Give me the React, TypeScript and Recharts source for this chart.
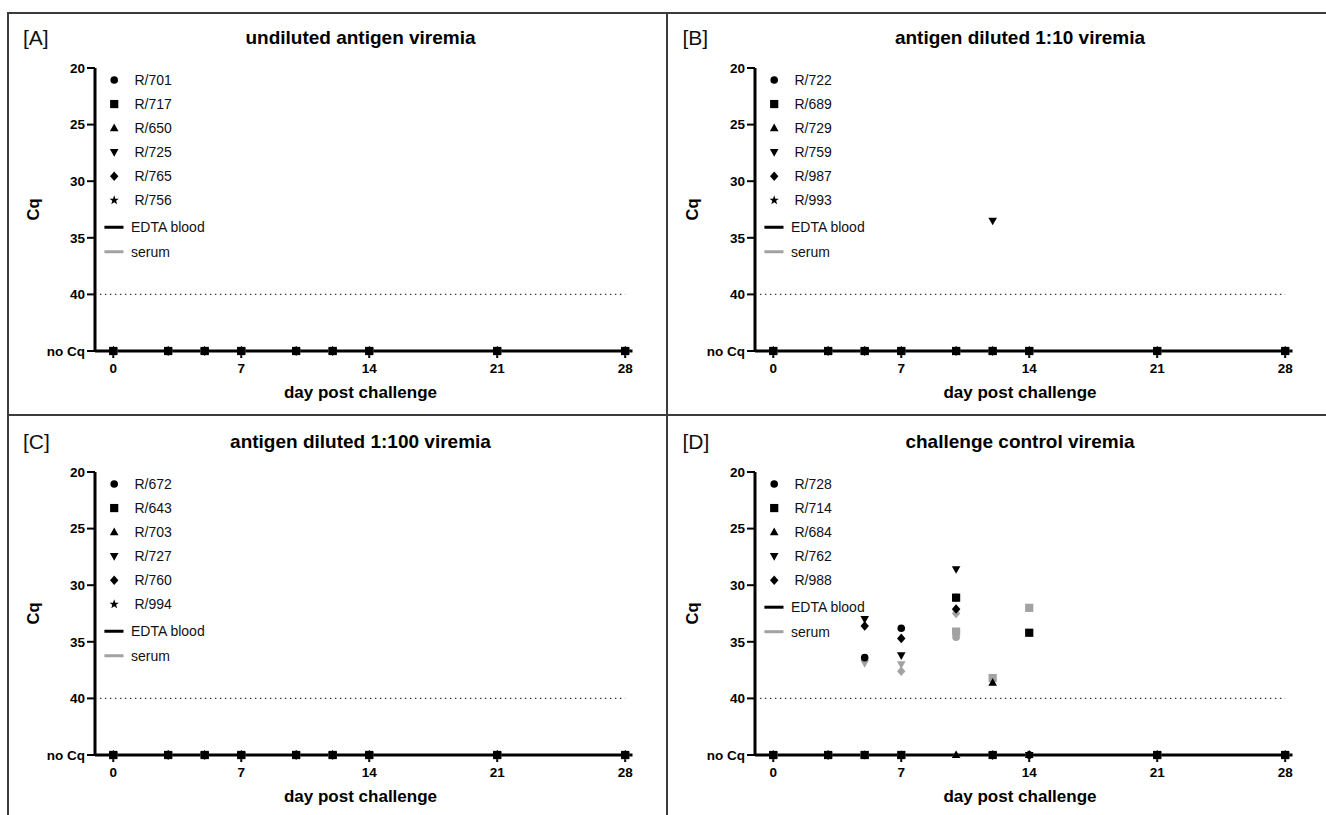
import React from 'react';
import { ScatterChart, Scatter, XAxis, YAxis, ReferenceLine, Legend } from 'recharts';

// ---------- data ----------
const DAYS = [0, 3, 5, 7, 10, 12, 14, 21, 28];
const N = 45; // "no Cq"
const X_TICKS = [0, 7, 14, 21, 28];
const Y_TICKS = [20, 25, 30, 35, 40, 45];
const Y_TICK_LABELS = ['20', '25', '30', '35', '40', 'no Cq'];
const CUTOFF = 40;
const SHAPES = ['circle', 'square', 'triangle', 'down', 'diamond', 'star'];

const A_TITLE = 'undiluted antigen viremia';
const A_ANIMALS = ['R/701', 'R/717', 'R/650', 'R/725', 'R/765', 'R/756'];
const A_EDTA = [
  [N, N, N, N, N, N, N, N, N],
  [N, N, N, N, N, N, N, N, N],
  [N, N, N, N, N, N, N, N, N],
  [N, N, N, N, N, N, N, N, N],
  [N, N, N, N, N, N, N, N, N],
  [N, N, N, N, N, N, N, N, N],
];
const A_SERUM = [
  [N, N, N, N, N, N, N, N, N],
  [N, N, N, N, N, N, N, N, N],
  [N, N, N, N, N, N, N, N, N],
  [N, N, N, N, N, N, N, N, N],
  [N, N, N, N, N, N, N, N, N],
  [N, N, N, N, N, N, N, N, N],
];

const B_TITLE = 'antigen diluted 1:10 viremia';
const B_ANIMALS = ['R/722', 'R/689', 'R/729', 'R/759', 'R/987', 'R/993'];
const B_EDTA = [
  [N, N, N, N, N, N, N, N, N],
  [N, N, N, N, N, N, N, N, N],
  [N, N, N, N, N, N, N, N, N],
  [N, N, N, N, N, 33.5, N, N, N],
  [N, N, N, N, N, N, N, N, N],
  [N, N, N, N, N, N, N, N, N],
];
const B_SERUM = [
  [N, N, N, N, N, N, N, N, N],
  [N, N, N, N, N, N, N, N, N],
  [N, N, N, N, N, N, N, N, N],
  [N, N, N, N, N, N, N, N, N],
  [N, N, N, N, N, N, N, N, N],
  [N, N, N, N, N, N, N, N, N],
];

const C_TITLE = 'antigen diluted 1:100 viremia';
const C_ANIMALS = ['R/672', 'R/643', 'R/703', 'R/727', 'R/760', 'R/994'];
const C_EDTA = [
  [N, N, N, N, N, N, N, N, N],
  [N, N, N, N, N, N, N, N, N],
  [N, N, N, N, N, N, N, N, N],
  [N, N, N, N, N, N, N, N, N],
  [N, N, N, N, N, N, N, N, N],
  [N, N, N, N, N, N, N, N, N],
];
const C_SERUM = [
  [N, N, N, N, N, N, N, N, N],
  [N, N, N, N, N, N, N, N, N],
  [N, N, N, N, N, N, N, N, N],
  [N, N, N, N, N, N, N, N, N],
  [N, N, N, N, N, N, N, N, N],
  [N, N, N, N, N, N, N, N, N],
];

const D_TITLE = 'challenge control viremia';
const D_ANIMALS = ['R/728', 'R/714', 'R/684', 'R/762', 'R/988'];
const D_EDTA = [
  [N, N, 36.4, 33.8, 31.1, N, N, N, N],
  [N, N, N, N, 31.1, N, 34.2, N, N],
  [N, N, N, N, N, 38.6, N, N, N],
  [N, N, 33.0, 36.2, 28.6, N, N, N, N],
  [N, N, 33.6, 34.7, 32.1, N, N, N, N],
];
const D_SERUM = [
  [N, N, N, N, 34.6, N, N, N, N],
  [N, N, N, N, 34.1, 38.2, 32.0, N, N],
  [N, N, N, N, N, N, N, N, N],
  [N, N, 36.9, 37.0, 32.4, N, N, N, N],
  [N, N, N, 37.6, 32.5, N, N, N, N],
];

// ---------- styling ----------
const FONT = "'Liberation Sans', Arial, Helvetica, sans-serif";
const BLACK = '#000000';
const GREY = '#a2a2a2';
const CW = 660;
const CH = 404;
const PX = 659.5; // horizontal panel shift
const PY = 404; // vertical panel shift

function symbol(kind: string, cx: number, cy: number, fill: string, key?: string) {
  switch (kind) {
    case 'circle':
      return <circle key={key} cx={cx} cy={cy} r={3.8} fill={fill} />;
    case 'square':
      return <rect key={key} x={cx - 4.1} y={cy - 4.1} width={8.2} height={8.2} fill={fill} />;
    case 'triangle':
      return (
        <polygon key={key} points={`${cx},${cy - 4.5} ${cx + 4.3},${cy + 3.1} ${cx - 4.3},${cy + 3.1}`} fill={fill} />
      );
    case 'down':
      return (
        <polygon key={key} points={`${cx},${cy + 4.5} ${cx + 4.3},${cy - 3.1} ${cx - 4.3},${cy - 3.1}`} fill={fill} />
      );
    case 'diamond':
      return (
        <polygon key={key} points={`${cx},${cy - 4.8} ${cx + 4.2},${cy} ${cx},${cy + 4.8} ${cx - 4.2},${cy}`} fill={fill} />
      );
    default: {
      const pts: string[] = [];
      for (let k = 0; k < 10; k++) {
        const r = k % 2 === 0 ? 4.9 : 2.0;
        const a = -Math.PI / 2 + (k * Math.PI) / 5;
        pts.push(`${cx + r * Math.cos(a)},${cy + r * Math.sin(a)}`);
      }
      return <polygon key={key} points={pts.join(' ')} fill={fill} />;
    }
  }
}

const makeShape = (kind: string, fill: string) => (props: any) => {
  const { cx, cy } = props;
  if (cx == null || cy == null) return <g />;
  return symbol(kind, cx, cy, fill);
};

const toPoints = (row: number[]) => DAYS.map((d, i) => ({ day: d, cq: row[i] }));

function LegendBox({ animals }: { animals: string[] }) {
  const rowY = (i: number) => 80 + 24.05 * i;
  const lastY = rowY(animals.length - 1);
  const edtaY = lastY + 27;
  const serumY = edtaY + 24.5;
  return (
    <svg width={180} height={280} style={{ display: 'block', overflow: 'visible' }}>
      {animals.map((a, i) => (
        <g key={a}>
          {symbol(SHAPES[i], 114.2, rowY(i), BLACK)}
          <text x={134.5} y={rowY(i)} dominantBaseline="central" fontSize={14} fontFamily={FONT} fill="#111">
            {a}
          </text>
        </g>
      ))}
      <line x1={104.4} x2={123.5} y1={edtaY} y2={edtaY} stroke={BLACK} strokeWidth={3} />
      <text x={131} y={edtaY} dominantBaseline="central" fontSize={14} fontFamily={FONT} fill="#111">
        EDTA blood
      </text>
      <line x1={104.4} x2={123.5} y1={serumY} y2={serumY} stroke={GREY} strokeWidth={3} />
      <text x={131} y={serumY} dominantBaseline="central" fontSize={14} fontFamily={FONT} fill="#111">
        serum
      </text>
    </svg>
  );
}

type PanelProps = {
  animals: string[];
  edta: number[][];
  serum: number[][];
  left: number;
  top: number;
};

function Panel({ animals, edta, serum, left, top }: PanelProps) {
  const tickStyle = { fill: BLACK, fontSize: 13.5, fontWeight: 700, fontFamily: FONT };
  return (
    <div style={{ position: 'absolute', left, top, width: CW, height: CH }}>
      <ScatterChart width={CW} height={CH} margin={{ top: 68, right: 27.5, bottom: 0, left: 45 }}>
        <XAxis
          type="number"
          dataKey="day"
          domain={[-1, 28.4]}
          ticks={X_TICKS}
          interval={0}
          height={53}
          tickSize={7}
          tickMargin={5}
          axisLine={{ stroke: BLACK, strokeWidth: 3 }}
          tickLine={{ stroke: BLACK, strokeWidth: 2 }}
          tick={tickStyle}
        />
        <YAxis
          type="number"
          dataKey="cq"
          domain={[20, 45]}
          reversed
          ticks={Y_TICKS}
          interval={0}
          width={50}
          tickSize={8}
          tickMargin={2}
          tickFormatter={(v: number) => Y_TICK_LABELS[Y_TICKS.indexOf(v)] ?? String(v)}
          axisLine={{ stroke: BLACK, strokeWidth: 3 }}
          tickLine={{ stroke: BLACK, strokeWidth: 2 }}
          tick={tickStyle}
        />
        <ReferenceLine
          segment={[
            { x: -0.73, y: CUTOFF },
            { x: 28, y: CUTOFF },
          ]}
          stroke="#333"
          strokeWidth={1.4}
          strokeDasharray="1.4 3.6"
        />
        {serum.map((row, i) => (
          <Scatter
            key={'s' + animals[i]}
            name={animals[i] + ' serum'}
            data={toPoints(row)}
            fill={GREY}
            shape={makeShape(SHAPES[i], GREY)}
            isAnimationActive={false}
            legendType="none"
          />
        ))}
        {edta.map((row, i) => (
          <Scatter
            key={'e' + animals[i]}
            name={animals[i]}
            data={toPoints(row)}
            fill={BLACK}
            shape={makeShape(SHAPES[i], BLACK)}
            isAnimationActive={false}
          />
        ))}
        <Legend
          layout="vertical"
          align="center"
          verticalAlign="middle"
          wrapperStyle={{ position: 'absolute', left: 0, top: 0, width: 180, height: 280 }}
          content={() => <LegendBox animals={animals} />}
        />
      </ScatterChart>
    </div>
  );
}

function PanelText({ ox, oy, letter, title }: { ox: number; oy: number; letter: string; title: string }) {
  return (
    <g>
      <text x={ox + 23} y={oy + 45} fontSize={21} fontFamily={FONT} fill="#111">
        {letter}
      </text>
      <text x={ox + 360.5} y={oy + 44} fontSize={19} fontWeight={700} fontFamily={FONT} textAnchor="middle" fill={BLACK}>
        {title}
      </text>
      <text x={ox + 360.5} y={oy + 398} fontSize={17} fontWeight={700} fontFamily={FONT} textAnchor="middle" fill={BLACK}>
        day post challenge
      </text>
      <text
        x={ox + 32.8}
        y={oy + 209.5}
        fontSize={16.5}
        fontWeight={700}
        fontFamily={FONT}
        textAnchor="middle"
        dominantBaseline="central"
        transform={`rotate(-90 ${ox + 32.8} ${oy + 209.5})`}
        fill={BLACK}
      >
        Cq
      </text>
    </g>
  );
}

export default function App() {
  return (
    <div
      style={{
        position: 'absolute',
        left: 0,
        top: 0,
        width: 1326,
        height: 815,
        background: '#fff',
        overflow: 'hidden',
        fontFamily: FONT,
      }}
    >
      <Panel animals={A_ANIMALS} edta={A_EDTA} serum={A_SERUM} left={0} top={0} />
      <Panel animals={B_ANIMALS} edta={B_EDTA} serum={B_SERUM} left={PX} top={0} />
      <Panel animals={C_ANIMALS} edta={C_EDTA} serum={C_SERUM} left={0} top={PY} />
      <Panel animals={D_ANIMALS} edta={D_EDTA} serum={D_SERUM} left={PX} top={PY} />
      <svg
        width={1326}
        height={815}
        style={{ position: 'absolute', left: 0, top: 0, pointerEvents: 'none' }}
      >
        <PanelText ox={0} oy={0} letter="[A]" title={A_TITLE} />
        <PanelText ox={PX} oy={0} letter="[B]" title={B_TITLE} />
        <PanelText ox={0} oy={PY} letter="[C]" title={C_TITLE} />
        <PanelText ox={PX} oy={PY} letter="[D]" title={D_TITLE} />
        <line x1={8} x2={1326} y1={13} y2={13} stroke="#3c3c3c" strokeWidth={2} />
        <line x1={8} x2={8} y1={12} y2={815} stroke="#3c3c3c" strokeWidth={2} />
        <line x1={667} x2={667} y1={12} y2={815} stroke="#3c3c3c" strokeWidth={2} />
        <line x1={8} x2={1326} y1={415} y2={415} stroke="#3c3c3c" strokeWidth={2} />
      </svg>
    </div>
  );
}
